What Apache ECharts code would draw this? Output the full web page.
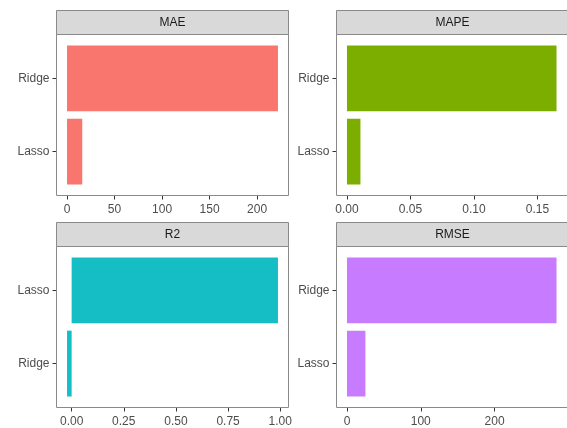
<!DOCTYPE html>
<html>
<head>
<meta charset="utf-8">
<script src="https://cdn.jsdelivr.net/npm/echarts@6/dist/echarts.min.js"></script>
<style>
  html, body { margin: 0; padding: 0; background: #fff; }
  #chart { width: 567px; height: 428px; }
</style>
</head>
<body>
<div id="chart"></div>
<script>
// values
const maeModels = ['Lasso', 'Ridge'];
const maeValues = [16, 222];
const maeTicks = [0, 50, 100, 150, 200];
const maeTickLabels = ['0', '50', '100', '150', '200'];

const mapeModels = ['Lasso', 'Ridge'];
const mapeValues = [0.0106, 0.165];
const mapeTicks = [0, 0.05, 0.1, 0.15];
const mapeTickLabels = ['0.00', '0.05', '0.10', '0.15'];

const r2Models = ['Ridge', 'Lasso'];
const r2Values = [-0.022, 0.989];
const r2Ticks = [0, 0.25, 0.5, 0.75, 1];
const r2TickLabels = ['0.00', '0.25', '0.50', '0.75', '1.00'];

const rmseModels = ['Lasso', 'Ridge'];
const rmseValues = [25, 284];
const rmseTicks = [0, 100, 200];
const rmseTickLabels = ['0', '100', '200'];

const panels = [
  { title: 'MAE', models: maeModels, values: maeValues, ticks: maeTicks, labels: maeTickLabels, color: '#F8766D' },
  { title: 'MAPE', models: mapeModels, values: mapeValues, ticks: mapeTicks, labels: mapeTickLabels, color: '#7CAE00' },
  { title: 'R2', models: r2Models, values: r2Values, ticks: r2Ticks, labels: r2TickLabels, color: '#14BEC4' },
  { title: 'RMSE', models: rmseModels, values: rmseValues, ticks: rmseTicks, labels: rmseTickLabels, color: '#C77CFF' }
];

// facet layout
const colLeft = [56.5, 336.5];
const panelW = 232;
const stripTop = [10.5, 222.5];
const stripH = 24;
const panelH = 161;
const font = 'Liberation Sans, Arial, sans-serif';

const grid = [], xAxis = [], yAxis = [], series = [], graphic = [];

panels.forEach(function (p, i) {
  const left = colLeft[i % 2];
  const top = stripTop[Math.floor(i / 2)] + stripH;
  // ggplot-like discrete expansion: 0.6 units each side, bars 0.9 wide
  const unit = panelH / (p.models.length + 0.2);
  const inset = 0.1 * unit;
  // continuous expansion 5%
  const lo = Math.min(0, Math.min.apply(null, p.values));
  const hi = Math.max(0, Math.max.apply(null, p.values));
  const pad = (hi - lo) * 0.05;

  grid.push({ left: left, top: top + inset, width: panelW, height: panelH - 2 * inset });

  xAxis.push({
    gridIndex: i,
    type: 'value',
    min: lo - pad,
    max: hi + pad,
    offset: inset,
    splitLine: { show: false },
    axisLine: { show: false, onZero: false },
    axisTick: { show: true, length: 4, customValues: p.ticks, lineStyle: { color: '#333' } },
    axisLabel: {
      customValues: p.ticks,
      margin: 8,
      color: '#4d4d4d',
      fontSize: 12,
      fontFamily: font,
      formatter: function (v) {
        const k = p.ticks.indexOf(v);
        return k >= 0 ? p.labels[k] : '';
      }
    }
  });

  yAxis.push({
    gridIndex: i,
    type: 'category',
    data: p.models,
    axisLine: { show: false, onZero: false },
    axisTick: { show: true, alignWithLabel: true, length: 4, lineStyle: { color: '#333' } },
    axisLabel: { margin: 7, color: '#4d4d4d', fontSize: 12, fontFamily: font }
  });

  series.push({
    type: 'bar',
    xAxisIndex: i,
    yAxisIndex: i,
    data: p.values,
    barCategoryGap: '10%',
    itemStyle: { color: p.color },
    silent: true
  });

  graphic.push({
    type: 'rect',
    z: 10,
    shape: { x: left, y: top, width: panelW, height: panelH },
    style: { fill: 'none', stroke: '#8a8a8a', lineWidth: 1 }
  });
  graphic.push({
    type: 'rect',
    z: 10,
    shape: { x: left, y: top - stripH, width: panelW, height: stripH },
    style: { fill: '#d9d9d9', stroke: '#8a8a8a', lineWidth: 1 }
  });
  graphic.push({
    type: 'text',
    z: 11,
    x: left + panelW / 2,
    y: top - stripH / 2,
    style: {
      text: p.title,
      fill: '#1a1a1a',
      font: '12px ' + font,
      align: 'center',
      verticalAlign: 'middle'
    }
  });
});

const chart = echarts.init(document.getElementById('chart'));
chart.setOption({
  animation: false,
  backgroundColor: '#fff',
  grid: grid,
  xAxis: xAxis,
  yAxis: yAxis,
  series: series,
  graphic: graphic
});
</script>
</body>
</html>
